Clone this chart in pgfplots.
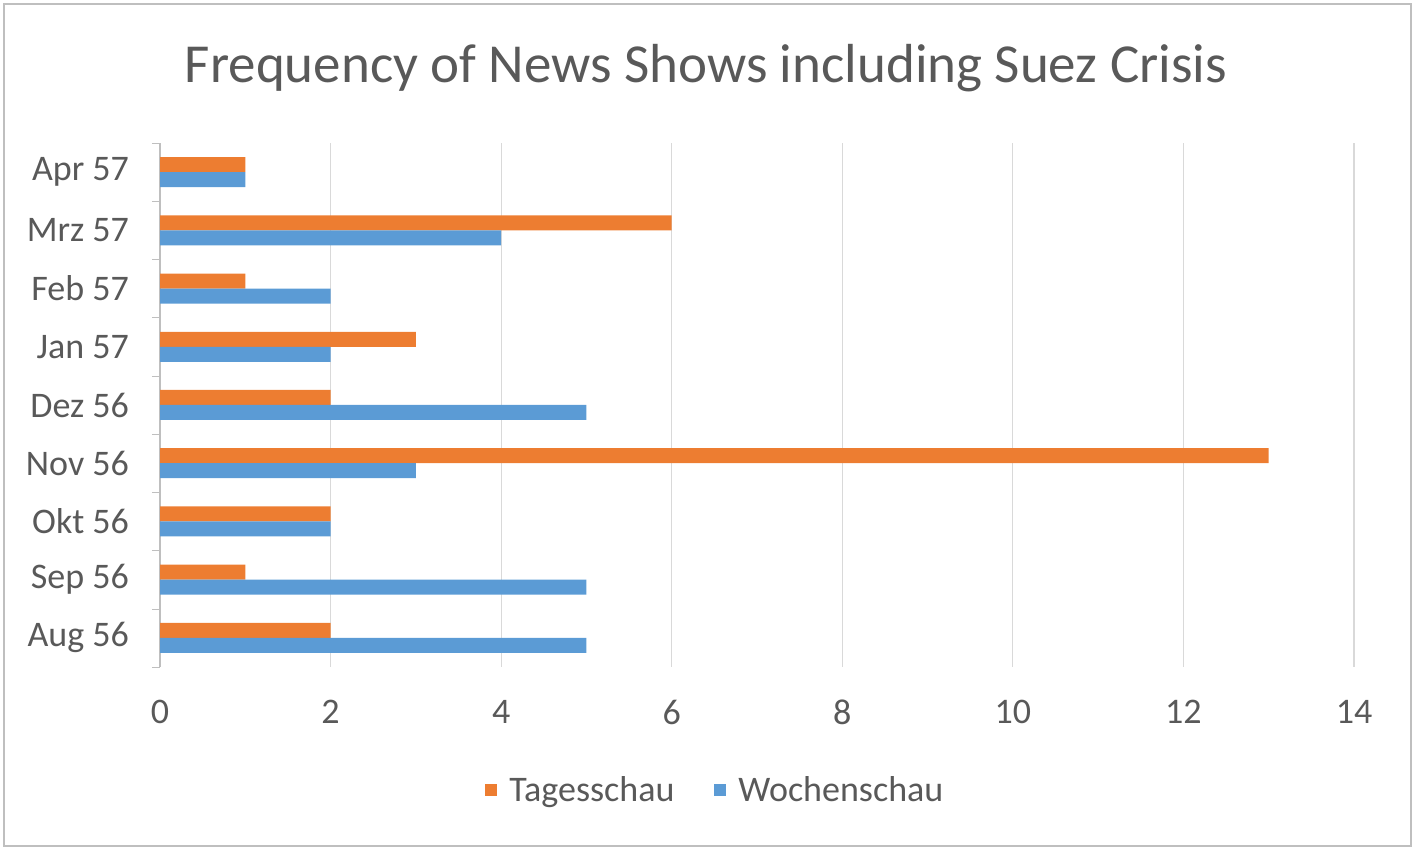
\documentclass[border=0pt]{standalone}
\usepackage{pgfplots}
\pgfplotsset{compat=1.18}
\usepackage{fontspec}
\setmainfont{Carlito}
\definecolor{torange}{HTML}{ED7D31}
\definecolor{wblue}{HTML}{5B9BD5}
\definecolor{txt}{HTML}{595959}
\definecolor{gridc}{HTML}{D9D9D9}
\definecolor{axc}{HTML}{BFBFBF}
\begin{document}
\begin{tikzpicture}
\useasboundingbox (0pt,0pt) rectangle (707.5pt,425pt);
\draw[draw=axc,line width=1pt] (2pt,2pt) rectangle (705.5pt,423pt);
\node[text=txt,font=\fontsize{27.5}{32}\selectfont] at (353pt,391pt) {Frequency of News Shows including Suez Crisis};
\begin{axis}[
  scale only axis,
  at={(80pt,91.5pt)}, anchor=south west,
  width=597pt, height=262pt,
  xbar,
  xmin=0, xmax=14,
  ymin=-0.5, ymax=8.5,
  xtick={0,2,...,14},
  ytick={0,...,8},
  yticklabels={Aug 56,Sep 56,Okt 56,Nov 56,Dez 56,Jan 57,Feb 57,Mrz 57,Apr 57},
  minor ytick={-0.5,0.5,...,8.5},
  major tick length=0pt,
  minor tick length=4pt,
  tick align=outside,
  minor tick style={axc},
  xmajorgrids,
  major grid style={gridc,line width=0.6pt},
  axis x line*=bottom,
  axis y line*=left,
  x axis line style={draw=none},
  y axis line style={axc,line width=0.8pt},
  ticklabel style={text=txt,font=\fontsize{18}{21}\selectfont},
  /pgf/number format/assume math mode=true,
  xticklabel style={yshift=-13pt},
  yticklabel style={xshift=-12pt},
  bar width=7.5pt,
  legend style={at={(0.466,-0.235)},anchor=center,draw=none,
    legend columns=2,font=\fontsize{18}{21}\selectfont,text=txt,
    /tikz/every odd column/.append style={column sep=4pt},
    /tikz/every even column/.append style={column sep=18pt}},
  legend cell align=left,
  legend image code/.code={\fill[#1] (0pt,-3pt) rectangle (6pt,3pt);},
]
\addplot[fill=torange,draw=none,bar shift=3.75pt] coordinates {
(2,0) (1,1) (2,2) (13,3) (2,4) (3,5) (1,6) (6,7) (1,8)};
\addlegendentry{Tagesschau}
\addplot[fill=wblue,draw=none,bar shift=-3.75pt] coordinates {
(5,0) (5,1) (2,2) (3,3) (5,4) (2,5) (2,6) (4,7) (1,8)};
\addlegendentry{Wochenschau}
\end{axis}
\end{tikzpicture}
\end{document}
